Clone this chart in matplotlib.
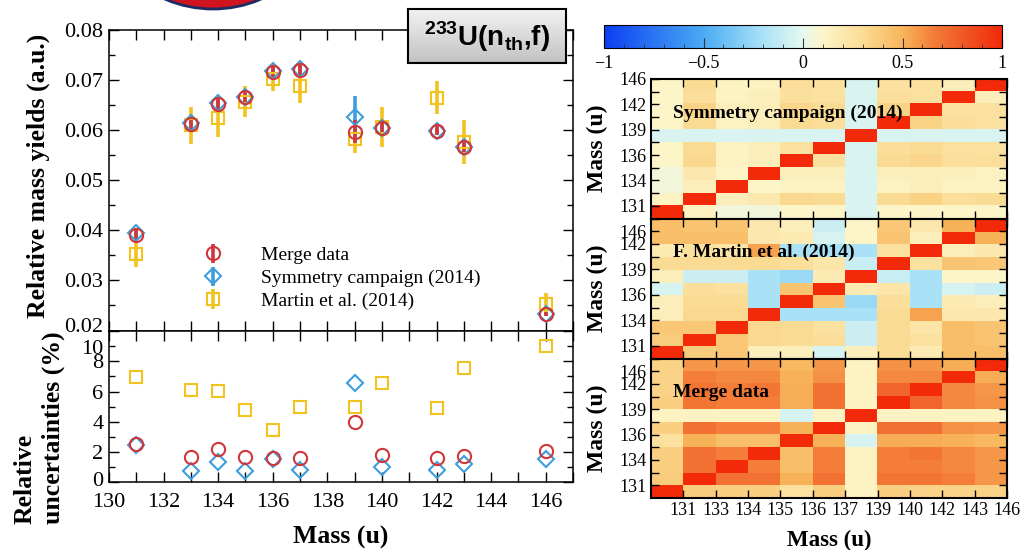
import numpy as np
import matplotlib
matplotlib.use("Agg")
import matplotlib.pyplot as plt
from matplotlib.colors import LinearSegmentedColormap
from matplotlib.patches import Ellipse
from matplotlib.ticker import MultipleLocator, FormatStrFormatter
from matplotlib.transforms import ScaledTranslation

plt.rcParams['font.family'] = ['Liberation Serif', 'DejaVu Serif']
plt.rcParams['mathtext.fontset'] = 'custom'
plt.rcParams['mathtext.rm'] = 'Liberation Sans:bold'
plt.rcParams['axes.linewidth'] = 1.1

# fragment masses
mass = [131, 133, 134, 135, 136, 137, 139, 140, 142, 143, 146]

# relative mass yields (a.u.)
yield_merge = [0.0390, 0.0613, 0.0652, 0.0667, 0.0717, 0.0721, 0.0597, 0.0605, 0.0599, 0.0567, 0.0233]
yield_sym = [0.0394, 0.0615, 0.0655, 0.0667, 0.0718, 0.0722, 0.0627, 0.0605, 0.0599, 0.0567, 0.0233]
yield_martin = [0.0352, 0.0610, 0.0625, 0.0657, 0.0703, 0.0688, 0.0583, 0.0607, 0.0665, 0.0577, 0.0252]

# relative uncertainties (%)
unc_merge = [2.5, 1.65, 2.2, 1.65, 1.6, 1.6, 3.95, 1.8, 1.6, 1.75, 2.05]
unc_sym = [2.45, 0.7, 1.35, 0.7, 1.5, 0.8, 6.55, 1.0, 0.8, 1.2, 1.55]
unc_martin = [6.95, 6.1, 6.05, 4.75, 3.45, 5.0, 5.0, 6.55, 4.9, 7.55, 9.0]

# correlation matrices, rows/cols in the order of `mass`
corr_sym = [
    [1.00, 0.12, 0.05, 0.05, 0.10, 0.10, -0.04, 0.10, 0.10, 0.10, 0.10],
    [0.12, 1.00, 0.15, 0.20, 0.32, 0.30, -0.04, 0.30, 0.35, 0.28, 0.30],
    [0.05, 0.15, 1.00, 0.10, 0.12, 0.12, -0.04, 0.13, 0.15, 0.12, 0.12],
    [0.05, 0.20, 0.10, 1.00, 0.15, 0.15, -0.04, 0.15, 0.15, 0.15, 0.13],
    [0.10, 0.32, 0.12, 0.15, 1.00, 0.25, -0.04, 0.30, 0.33, 0.27, 0.28],
    [0.10, 0.30, 0.12, 0.15, 0.25, 1.00, -0.04, 0.28, 0.30, 0.25, 0.25],
    [-0.04, -0.04, -0.04, -0.04, -0.04, -0.04, 1.00, -0.04, -0.04, -0.04, -0.04],
    [0.10, 0.30, 0.13, 0.15, 0.30, 0.28, -0.04, 1.00, 0.35, 0.28, 0.25],
    [0.10, 0.35, 0.15, 0.15, 0.33, 0.30, -0.04, 0.35, 1.00, 0.25, 0.25],
    [0.10, 0.28, 0.12, 0.15, 0.27, 0.25, -0.04, 0.28, 0.25, 1.00, 0.15],
    [0.10, 0.30, 0.12, 0.13, 0.28, 0.25, -0.04, 0.25, 0.25, 0.15, 1.00],
]
corr_martin = [
    [1.00, 0.38, 0.40, 0.15, 0.15, -0.05, 0.15, 0.30, 0.18, 0.45, 0.45],
    [0.38, 1.00, 0.40, 0.32, 0.30, 0.28, -0.08, 0.30, 0.25, 0.45, 0.42],
    [0.40, 0.40, 1.00, 0.32, 0.30, 0.25, -0.08, 0.30, 0.22, 0.45, 0.42],
    [0.15, 0.32, 0.32, 1.00, -0.20, -0.20, -0.20, 0.30, 0.55, 0.20, 0.20],
    [0.15, 0.30, 0.30, -0.20, 1.00, 0.42, -0.25, 0.28, -0.20, 0.18, 0.15],
    [-0.05, 0.28, 0.25, -0.20, 0.42, 1.00, 0.18, 0.22, -0.20, -0.05, -0.08],
    [0.15, -0.08, -0.08, -0.20, -0.25, 0.18, 1.00, -0.10, -0.20, 0.10, 0.10],
    [0.30, 0.30, 0.30, 0.30, 0.28, 0.22, -0.10, 1.00, 0.25, 0.42, 0.40],
    [0.18, 0.25, 0.22, 0.55, -0.20, -0.20, -0.20, 0.25, 1.00, 0.15, 0.20],
    [0.45, 0.45, 0.45, 0.20, 0.18, -0.05, 0.10, 0.42, 0.15, 1.00, 0.50],
    [0.45, 0.42, 0.42, 0.20, 0.15, -0.08, 0.10, 0.40, 0.20, 0.50, 1.00],
]
corr_merge = [
    [1.00, 0.38, 0.36, 0.36, 0.25, 0.36, 0.12, 0.36, 0.34, 0.34, 0.35],
    [0.38, 1.00, 0.70, 0.70, 0.50, 0.70, 0.12, 0.68, 0.68, 0.65, 0.58],
    [0.36, 0.70, 1.00, 0.65, 0.45, 0.65, 0.12, 0.65, 0.65, 0.62, 0.58],
    [0.36, 0.70, 0.65, 1.00, 0.45, 0.65, 0.12, 0.65, 0.68, 0.62, 0.58],
    [0.25, 0.50, 0.45, 0.45, 1.00, 0.50, -0.05, 0.52, 0.52, 0.50, 0.48],
    [0.36, 0.70, 0.65, 0.65, 0.50, 1.00, 0.12, 0.70, 0.70, 0.60, 0.58],
    [0.12, 0.12, 0.12, 0.12, -0.05, 0.12, 1.00, 0.12, 0.12, 0.12, 0.12],
    [0.36, 0.68, 0.65, 0.65, 0.52, 0.70, 0.12, 1.00, 0.75, 0.62, 0.60],
    [0.34, 0.68, 0.65, 0.68, 0.52, 0.70, 0.12, 0.75, 1.00, 0.62, 0.58],
    [0.34, 0.65, 0.62, 0.62, 0.50, 0.60, 0.12, 0.62, 0.62, 1.00, 0.52],
    [0.35, 0.58, 0.58, 0.58, 0.48, 0.58, 0.12, 0.60, 0.58, 0.52, 1.00],
]

red = '#d0363a'
blue = '#3e9edc'
yellow = '#f2c21e'

W, H = 1026, 550
fig = plt.figure(figsize=(W / 100, H / 100), dpi=100)


def frac(x0, y0, x1, y1):
    # pixel box (top-left origin) -> figure fraction rect
    return [x0 / W, 1 - y1 / H, (x1 - x0) / W, (y1 - y0) / H]


def nudge(label, dy_px):
    label.set_transform(label.get_transform() +
                        ScaledTranslation(0, dy_px / 100, fig.dpi_scale_trans))


# logo edge peeking in at the top (pixel coordinates)
lax = fig.add_axes([0, 0, 1, 1], zorder=-5)
lax.set_xlim(0, W)
lax.set_ylim(H, 0)
lax.axis('off')
lax.add_patch(Ellipse((213, -113), 244, 244, facecolor='#cf1420',
                      edgecolor='#1d2b63', linewidth=2.0))

# ---- yields (top left) ----
ax1 = fig.add_axes(frac(109, 30, 573, 330.5))
ax2 = fig.add_axes(frac(109, 330.5, 573, 482))

m = np.array(mass)
series = [
    (yield_martin, unc_martin, 's', 9, yellow, 'Martin et al. (2014)'),
    (yield_sym, unc_sym, 'D', 8, blue, 'Symmetry campaign (2014)'),
    (yield_merge, unc_merge, 'o', 9.5, red, 'Merge data'),
]
handles = {}
for y, u, mk, ms, c, lab in series:
    y = np.array(y)
    err = y * np.array(u) / 100
    h = ax1.errorbar(m, y, yerr=err, fmt=mk, ms=ms, mfc='none', mec=c, mew=1.5,
                     ecolor=c, elinewidth=2.6, capsize=0, label=lab)
    handles[lab] = h
    ax2.plot(m, u, mk, ms=ms, mfc='none', mec=c, mew=1.5)

order = ['Merge data', 'Symmetry campaign (2014)', 'Martin et al. (2014)']
ax1.legend([handles[k] for k in order], order, loc='upper left',
           bbox_to_anchor=(0.165, 0.305), frameon=False, fontsize=14,
           handlelength=2.0, handletextpad=1.5, labelspacing=0.27, borderaxespad=0)

ax1.set_xlim(130, 147)
ax1.set_ylim(0.02, 0.08)
ax1.set_yticks(np.arange(0.02, 0.0801, 0.01))
ax1.yaxis.set_minor_locator(MultipleLocator(0.005))
ax1.yaxis.set_major_formatter(FormatStrFormatter('%.2f'))
ax2.set_xlim(130, 147)
ax2.set_ylim(0, 10.05)
ax2.set_yticks([0, 2, 4, 6, 8, 10])
ax2.yaxis.set_minor_locator(MultipleLocator(1))
for ax in (ax1, ax2):
    ax.xaxis.set_major_locator(MultipleLocator(2))
    ax.xaxis.set_minor_locator(MultipleLocator(1))
    ax.tick_params(which='both', direction='in', top=True, right=True, width=1.0,
                   labelsize=16, pad=4)
    ax.tick_params(which='major', length=7)
    ax.tick_params(axis='x', which='minor', length=7)
    ax.tick_params(axis='y', which='minor', length=4)
ax1.tick_params(labelbottom=False)
ax2.tick_params(axis='x', pad=8)

# the 0.02 and 10 labels share the panel seam; pull them apart
nudge(ax1.yaxis.get_major_ticks()[0].label1, 5)
nudge(ax2.yaxis.get_major_ticks()[-1].label1, -16)
nudge(ax2.yaxis.get_major_ticks()[0].label1, 3)

fig.text(38 / W, 1 - 176 / H, 'Relative mass yields (a.u.)', rotation=90,
         ha='center', va='center', fontsize=18.5, fontweight='bold')
fig.text(39 / W, 1 - 428 / H, 'Relative\nuncertainties (%)', rotation=90,
         ha='center', va='center', multialignment='left', linespacing=1.3,
         fontsize=18.5, fontweight='bold')
fig.text(341 / W, 1 - 537 / H, 'Mass (u)', ha='center', va='center',
         fontsize=18.5, fontweight='bold')

# ---- correlation maps (right) ----
cmap = LinearSegmentedColormap.from_list('corr', [
    (0.00, '#0b3ff2'), (0.25, '#4aabf3'), (0.40, '#a9e2f7'), (0.50, '#e6f8ef'),
    (0.55, '#fdf5c8'), (0.65, '#fbdc95'), (0.75, '#f8b55a'), (0.83, '#f47c38'),
    (0.90, '#f05a26'), (1.00, '#f22a0a')])

maps = [
    (corr_sym, 'Symmetry campaign (2014)', 79, 218.5),
    (corr_martin, 'F. Martin et al. (2014)', 218.5, 358.5),
    (corr_merge, 'Merge data', 358.5, 498),
]
n = len(mass)
for i, (corr, title, y0, y1) in enumerate(maps):
    ax = fig.add_axes(frac(651, y0, 1007, y1))
    im = ax.imshow(np.array(corr), cmap=cmap, vmin=-1, vmax=1, origin='lower',
                   extent=(0, n, 0, n), aspect='auto', interpolation='nearest')
    ax.set_xticks(range(1, n + 1))
    ax.set_yticks(range(1, n + 1))
    ylabels = [str(mass[k - 1]) if k % 2 == 1 else '' for k in range(1, n + 1)]
    if i > 0:
        # keep the top label clear of the panel border
        ylabels[-1] = ''
        ylabels[-2] = str(mass[-1])
    ax.set_yticklabels(ylabels)
    if i == len(maps) - 1:
        ax.set_xticklabels([str(v) for v in mass])
    else:
        ax.set_xticklabels([])
    ax.tick_params(direction='in', top=True, right=True, length=6, width=1.0,
                   labelsize=13, pad=3)
    for s in ax.spines.values():
        s.set_linewidth(1.5)
    ax.text(0.062, 0.755, title, transform=ax.transAxes, fontsize=14,
            fontweight='bold', va='center', ha='left')
    fig.text(597 / W, 1 - (y0 + y1) / 2 / H, 'Mass (u)', rotation=90,
             ha='center', va='center', fontsize=17, fontweight='bold')

fig.text(829 / W, 1 - 540 / H, 'Mass (u)', ha='center', va='center',
         fontsize=16.5, fontweight='bold')

cax = fig.add_axes(frac(604, 25, 1002, 48))
cb = fig.colorbar(im, cax=cax, orientation='horizontal')
cb.set_ticks([-1, -0.5, 0, 0.5, 1])
cb.set_ticklabels(['\u22121', '\u22120.5', '0', '0.5', '1'])
cax.xaxis.set_minor_locator(MultipleLocator(0.1))
cax.tick_params(which='both', direction='in', labelsize=13, color='#333333', pad=5)
cax.tick_params(which='major', length=7)
cax.tick_params(which='minor', length=3)
cb.outline.set_linewidth(0.8)

# ---- reaction label box ----
bax = fig.add_axes(frac(408, 9, 566, 63))
bax.imshow(np.linspace(0, 1, 60).reshape(-1, 1), extent=(0, 1, 0, 1), aspect='auto',
           cmap=LinearSegmentedColormap.from_list('grey', ['#f2f2f2', '#c2c2c2']))
bax.set_xticks([])
bax.set_yticks([])
for s in bax.spines.values():
    s.set_linewidth(1.5)
bax.text(0.5, 0.48, r'$^{\mathrm{233}}$U(n$_{\mathrm{th}}$,f)', transform=bax.transAxes,
         ha='center', va='center', fontsize=20, fontweight='bold', family='Liberation Sans')

fig.savefig('out.png', dpi=100)
